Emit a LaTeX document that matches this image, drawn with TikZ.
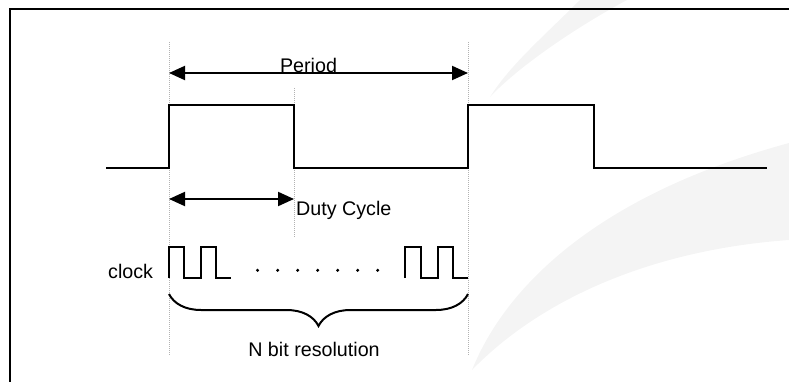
\documentclass[tikz,border=0pt]{standalone}
\usepackage{fontspec}
\setmainfont{Liberation Sans}
\usetikzlibrary{arrows.meta,decorations.pathreplacing}
\definecolor{wm}{HTML}{F4F4F4}
\tikzset{
  sig/.style={line width=2pt, line join=miter, line cap=butt},
  guide/.style={line width=1pt, draw=black!30, dash pattern=on 1pt off 1pt},
  dimarrow/.style={line width=2pt, {Triangle[length=16pt,width=14pt]}-{Triangle[length=16pt,width=14pt]}},
  lbl/.style={inner sep=0pt, font=\fontsize{19.7pt}{23pt}\selectfont},
  dotmark/.style={fill=black, draw=none},
  frame/.style={line width=2pt},
  bracestyle/.style={line width=2pt, decorate, decoration={brace, amplitude=32pt, mirror}}
}
\begin{document}
\begin{tikzpicture}[x=1pt,y=-1pt]
\useasboundingbox (0,0) rectangle (789,382);
% faint watermark
\fill[wm] (580,0) .. controls (545,35) and (510,65) .. (490,97)
  .. controls (520,65) and (580,25) .. (627,0) -- cycle;
\fill[wm] (472,370) .. controls (500,300) and (580,200) .. (789,143)
  -- (789,240) .. controls (650,250) and (540,300) .. (472,370) -- cycle;
% frame
\draw[frame] (10,383) -- (10,9) -- (790,9);
% guide lines
\coordinate (g1t) at (169,42); \coordinate (g1b) at (169,355);
\coordinate (g2t) at (294,88); \coordinate (g2b) at (294,237);
\coordinate (g3t) at (468,42); \coordinate (g3b) at (468,355);
\draw[guide] (g1t) -- (g1b);
\draw[guide] (g2t) -- (g2b);
\draw[guide] (g3t) -- (g3b);
% PWM signal
\draw[sig] (106,168) -- (169,168) -- (169,105) -- (294,105) -- (294,168)
  -- (468,168) -- (468,105) -- (594,105) -- (594,168) -- (767,168);
% period arrow
\coordinate (pL) at (169,73); \coordinate (pR) at (468,73);
\draw[dimarrow] (pL) -- (pR);
\node[lbl, anchor=base] (period) at (308.5,73) {Period};
% duty cycle arrow
\coordinate (dL) at (169,199); \coordinate (dR) at (294,199);
\draw[dimarrow] (dL) -- (dR);
\node[lbl, anchor=base west] (duty) at (296,215) {Duty Cycle};
% clock
\node[lbl, anchor=base west] (clock) at (108,278) {clock};
\draw[sig] (168.5,278) -- (168.5,247) -- (184,247) -- (184,278) -- (200.5,278)
  -- (200.5,247) -- (215.5,247) -- (215.5,278) -- (231,278);
\draw[sig] (404.5,278) -- (404.5,247) -- (421,247) -- (421,278) -- (438,278)
  -- (438,247) -- (453,247) -- (453,278) -- (468,278);
\foreach \i/\x in {1/257.5,2/277.7,3/297.7,4/317.7,5/337.7,6/357.7,7/377.7}
  \fill[dotmark] (\x,270.3) circle (1.7pt) coordinate (dot\i);
% brace
\coordinate (bL) at (169,294); \coordinate (bR) at (468,294);
\draw[bracestyle] (bL) -- (bR);
\node[lbl, anchor=base] (nbit) at (314,356.7) {N bit resolution};
\end{tikzpicture}
\end{document}
